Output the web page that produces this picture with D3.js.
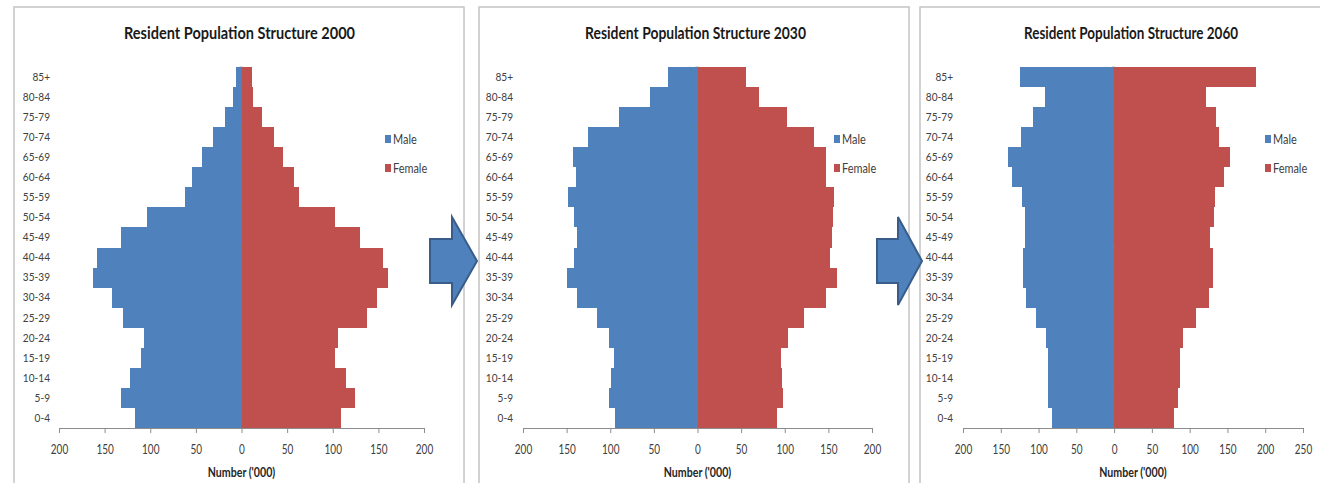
<!DOCTYPE html>
<html>
<head>
<meta charset="utf-8">
<script src="https://cdn.jsdelivr.net/npm/d3@7"></script>
<style>
  html, body { margin: 0; padding: 0; background: #fff; }
  svg { display: block; font-family: Lato, "Open Sans", sans-serif; }
</style>
</head>
<body>
<svg id="chart" width="1320" height="483"></svg>
<script>
// Age groups, youngest first
const ageGroups = ["0-4","5-9","10-14","15-19","20-24","25-29","30-34","35-39","40-44",
                   "45-49","50-54","55-59","60-64","65-69","70-74","75-79","80-84","85+"];

// Resident population ('000) by age group
const male2000   = [117, 132, 122, 110, 107, 130, 142, 163, 158, 132, 104, 62, 54, 43, 31, 18, 9.5, 5.5];
const female2000 = [109, 124, 114, 102, 106, 138, 149, 161, 155, 130, 103, 63, 57, 46, 36, 22, 13, 11];
const male2030   = [95, 101, 99, 96, 102, 115, 138, 150, 141, 138, 141, 148, 139, 143, 125, 90, 55, 34];
const female2030 = [91, 98, 97, 96, 104, 122, 147, 160, 152, 154, 155, 157, 147, 147, 134, 103, 70, 56];
const male2060   = [82, 87, 87, 87, 90, 103, 116, 120, 120, 118, 118, 122, 135, 140, 123, 108, 91, 125];
const female2060 = [79, 85, 87, 87, 91, 109, 126, 131, 131, 127, 132, 134, 145, 153, 139, 135, 122, 188];

const years = ["2000", "2030", "2060"];
const seriesNames = ["Male", "Female"];
const xTicks2000 = [-200, -150, -100, -50, 0, 50, 100, 150, 200];
const xTicks2030 = [-200, -150, -100, -50, 0, 50, 100, 150, 200];
const xTicks2060 = [-200, -150, -100, -50, 0, 50, 100, 150, 200, 250];
const axisTitle = "Number ('000)";

const colMale = "#4F81BD", colFemale = "#C0504D";

// Layout of each chart panel
const panels = [
  { year: years[0], male: male2000, female: female2000, ticks: xTicks2000,
    frame: [14, 7, 450, 500], range: [59, 424], labelX: 50, legendX: 385, titleW: 231 },
  { year: years[1], male: male2030, female: female2030, ticks: xTicks2030,
    frame: [479, 7, 430, 500], range: [523, 872], labelX: 513, legendX: 834, titleW: 221 },
  { year: years[2], male: male2060, female: female2060, ticks: xTicks2060,
    frame: [920, 7, 410, 500], range: [963, 1303], labelX: 953, legendX: 1265, titleW: 214 }
];

// Narrow the glyphs of a text selection horizontally by factor k
function condense(sel, k) {
  sel.each(function () {
    const w = this.getComputedTextLength();
    d3.select(this).attr("textLength", w * k).attr("lengthAdjust", "spacingAndGlyphs");
  });
}

const svg = d3.select("#chart");
const plotTop = 67, plotBase = 428;

panels.forEach(p => {
  const g = svg.append("g");

  g.append("rect")
    .attr("x", p.frame[0]).attr("y", p.frame[1])
    .attr("width", p.frame[2]).attr("height", p.frame[3])
    .attr("fill", "#fff").attr("stroke", "#c4c4c4").attr("stroke-width", 1.5);

  const x = d3.scaleLinear()
    .domain([p.ticks[0], p.ticks[p.ticks.length - 1]])
    .range(p.range);
  const y = d3.scaleBand()
    .domain(ageGroups.slice().reverse())
    .range([plotTop, plotBase])
    .padding(0);
  const midX = (p.range[0] + p.range[1]) / 2;

  g.append("text")
    .attr("x", midX - 2).attr("y", 39)
    .attr("text-anchor", "middle")
    .attr("font-weight", "bold").attr("font-size", 17)
    .attr("fill", "#1a1a1a")
    .attr("textLength", p.titleW).attr("lengthAdjust", "spacingAndGlyphs")
    .text("Resident Population Structure " + p.year);

  // Male bars extend left of zero, female bars right
  g.selectAll("rect.male").data(p.male).join("rect")
    .attr("class", "male")
    .attr("x", d => x(-d)).attr("width", d => x(0) - x(-d))
    .attr("y", (d, i) => y(ageGroups[i])).attr("height", y.bandwidth())
    .attr("fill", colMale).attr("shape-rendering", "crispEdges");
  g.selectAll("rect.female").data(p.female).join("rect")
    .attr("class", "female")
    .attr("x", x(0)).attr("width", d => x(d) - x(0))
    .attr("y", (d, i) => y(ageGroups[i])).attr("height", y.bandwidth())
    .attr("fill", colFemale).attr("shape-rendering", "crispEdges");

  // Category tick marks along the zero line
  g.selectAll("line.cat").data(d3.range(ageGroups.length + 1)).join("line")
    .attr("class", "cat")
    .attr("x1", x(0) - 2).attr("x2", x(0) + 1)
    .attr("y1", i => plotTop + i * y.step()).attr("y2", i => plotTop + i * y.step())
    .attr("stroke", "#7f7f7f").attr("stroke-width", 1).attr("opacity", 0.6);

  // Age group labels
  const yAxis = g.append("g")
    .attr("transform", `translate(${p.labelX},0)`)
    .call(d3.axisLeft(y).tickSize(0).tickPadding(0));
  yAxis.select(".domain").remove();
  yAxis.selectAll("text").attr("font-size", 12).attr("fill", "#404040")
    .attr("font-family", "Lato, sans-serif");
  condense(yAxis.selectAll("text"), 0.84);

  // Value axis
  const xAxis = g.append("g")
    .attr("transform", `translate(0,${plotBase})`)
    .call(d3.axisBottom(x).tickValues(p.ticks).tickFormat(d => Math.abs(d))
      .tickSize(5).tickSizeOuter(5).tickPadding(11));
  xAxis.select(".domain").attr("stroke", "#8c8c8c");
  xAxis.selectAll(".tick line").attr("stroke", "#8c8c8c");
  xAxis.selectAll("text").attr("font-size", 13.5).attr("fill", "#404040")
    .attr("font-family", "Lato, sans-serif");
  condense(xAxis.selectAll("text"), 0.74);

  const at = g.append("text")
    .attr("x", midX).attr("y", 477)
    .attr("text-anchor", "middle")
    .attr("font-weight", "bold").attr("font-size", 12.5)
    .attr("fill", "#262626")
    .text(axisTitle);
  condense(at, 0.85);

  // Legend
  const lg = g.append("g").attr("transform", `translate(${p.legendX},0)`);
  seriesNames.forEach((name, i) => {
    const cy = 139 + i * 29;
    lg.append("rect").attr("x", 0).attr("y", cy - 4).attr("width", 6).attr("height", 8)
      .attr("fill", i === 0 ? colMale : colFemale);
    const t = lg.append("text")
      .attr("x", 8).attr("y", cy + 4.5)
      .attr("font-size", 13).attr("fill", "#404040")
      .text(name);
    condense(t, 0.84);
  });
});

// Transition arrows between panels
const arrows = [[430, 452, 477], [877, 898, 922]];
svg.selectAll("path.arrow").data(arrows).join("path")
  .attr("class", "arrow")
  .attr("d", a => `M${a[0]},239 L${a[1]},239 L${a[1]},217 L${a[2]},261 L${a[1]},305 L${a[1]},283 L${a[0]},283 Z`)
  .attr("fill", "#4F81BD").attr("stroke", "#385D8A").attr("stroke-width", 2)
  .attr("stroke-linejoin", "miter");
</script>
</body>
</html>
